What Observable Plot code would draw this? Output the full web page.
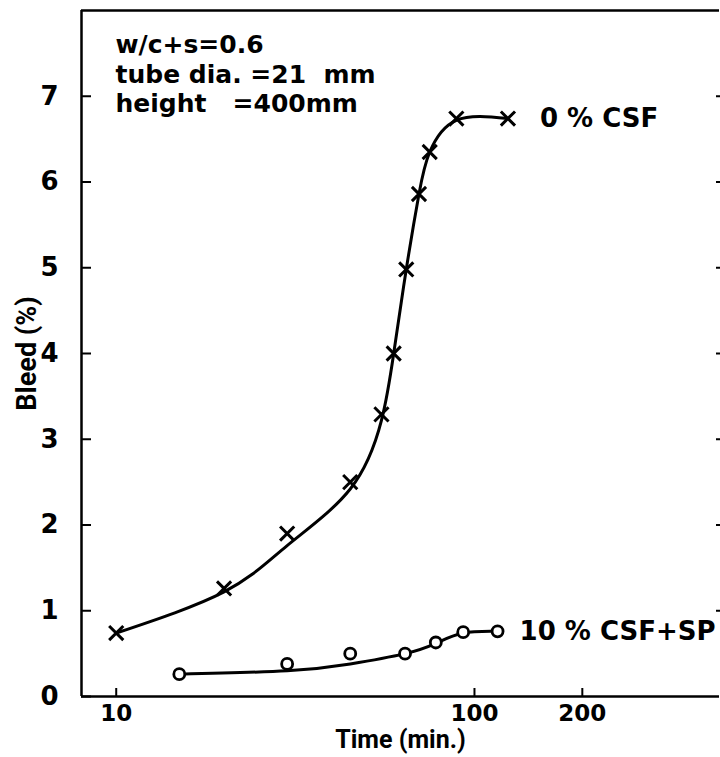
<!DOCTYPE html>
<html>
<head>
<meta charset="utf-8">
<script src="https://cdn.jsdelivr.net/npm/d3@7"></script>
<script src="https://cdn.jsdelivr.net/npm/@observablehq/plot@0.6"></script>
<style>
  html, body { margin: 0; padding: 0; background: #fff; }
  svg text { white-space: pre; }
</style>
</head>
<body>
<div id="chart"></div>
<script>
// 0 % CSF series (crosses)
const crossTime = [10, 20, 30, 45, 55, 59.5, 64.5, 70, 75, 89, 124];
const crossBleed = [0.74, 1.26, 1.9, 2.5, 3.29, 4.0, 4.98, 5.86, 6.35, 6.74, 6.74];
const crossFitBleed = [0.74, 1.22, 1.76, 2.42, 3.22, 4.0, 4.98, 5.86, 6.35, 6.72, 6.74];
// 10 % CSF+SP series (circles)
const circleTime = [15, 30, 45, 64, 78, 93, 116];
const circleBleed = [0.26, 0.38, 0.5, 0.5, 0.63, 0.75, 0.76];
const circleFitBleed = [0.26, 0.3, 0.38, 0.5, 0.62, 0.74, 0.76];
// axes
const xTicks = [10, 100, 200];
const yTicks = [0, 1, 2, 3, 4, 5, 6, 7];
const xTitle = "Time (min.)";
const yTitle = "Bleed (%)";
const seriesNames = ["0 % CSF", "10 % CSF+SP"];
const noteLines = ["w/c+s=0.6", "tube dia. =21  mm", "height   =400mm"];

const crosses = crossTime.map((t, i) => ({t, b: crossBleed[i], f: crossFitBleed[i]}));
const circles = circleTime.map((t, i) => ({t, b: circleBleed[i], f: circleFitBleed[i]}));

const font = "'DejaVu Sans', sans-serif";
const titleFont = "Roboto, 'DejaVu Sans', sans-serif";

const chart = Plot.plot({
  width: 720,
  height: 757,
  marginTop: 10,
  marginBottom: 61,
  marginLeft: 81,
  marginRight: 1,
  style: {fontFamily: font, fontSize: "25px", fontWeight: "bold", color: "#000", background: "#fff"},
  x: {type: "log", domain: [8, 483]},
  y: {domain: [0, 8]},
  marks: [
    // frame lines
    Plot.ruleY([0], {stroke: "#000", strokeWidth: 2.5}),
    Plot.ruleY([8], {stroke: "#000", strokeWidth: 2.5}),
    Plot.ruleX([8], {stroke: "#000", strokeWidth: 2.5}),
    // inward ticks
    Plot.axisX({ticks: xTicks, tickSize: 8, dy: -8, tickFormat: () => "", label: null, strokeWidth: 2}),
    Plot.axisX({ticks: xTicks, tickSize: 0, tickPadding: 8, tickFormat: d => String(d), fontSize: 23, fontWeight: "bold", label: null}),
    Plot.axisY({ticks: yTicks, tickSize: 10, dx: 10, tickFormat: () => "", label: null, strokeWidth: 2}),
    Plot.axisY({ticks: yTicks, tickSize: 0, tickPadding: 23, fontSize: 26, fontWeight: "bold", label: null}),
    Plot.axisY({anchor: "right", ticks: yTicks.slice(1), tickSize: 5, dx: -4, tickFormat: () => "", label: null, strokeWidth: 2}),
    // axis titles
    Plot.text([xTitle], {frameAnchor: "bottom", dy: 43, lineAnchor: "middle", textAnchor: "middle", text: d => d, fontFamily: titleFont, fontSize: 25, fontWeight: "bold", fill: "#000"}),
    Plot.text([yTitle], {frameAnchor: "left", dx: -54, lineAnchor: "middle", textAnchor: "middle", rotate: -90, text: d => d, fontFamily: titleFont, fontSize: 27, fontWeight: "bold", fill: "#000"}),
    // fitted curves
    Plot.line(crosses, {x: "t", y: "f", curve: "natural", stroke: "#000", strokeWidth: 3}),
    Plot.line(circles, {x: "t", y: "f", curve: "natural", stroke: "#000", strokeWidth: 3}),
    // markers
    Plot.dot(crosses, {x: "t", y: "b", symbol: "times", r: 6.5, stroke: "#000", strokeWidth: 3}),
    Plot.dot(circles, {x: "t", y: "b", symbol: "circle", r: 5.5, stroke: "#000", fill: "#fff", strokeWidth: 2.8}),
    // series labels
    Plot.text([crosses[crosses.length - 1]], {x: "t", y: "b", text: () => seriesNames[0], textAnchor: "start", dx: 32, fontSize: 26, fontWeight: "bold", fill: "#000"}),
    Plot.text([circles[circles.length - 1]], {x: "t", y: "b", text: () => seriesNames[1], textAnchor: "start", dx: 22, fontSize: 26, fontWeight: "bold", fill: "#000"}),
    // notes
    Plot.text([noteLines.join("\n")], {frameAnchor: "top-left", dx: 34, dy: 22, lineAnchor: "top", lineHeight: 1.18, textAnchor: "start", fontSize: 25, fontWeight: "bold", fill: "#000"})
  ]
});
document.getElementById("chart").appendChild(chart);
</script>
</body>
</html>
